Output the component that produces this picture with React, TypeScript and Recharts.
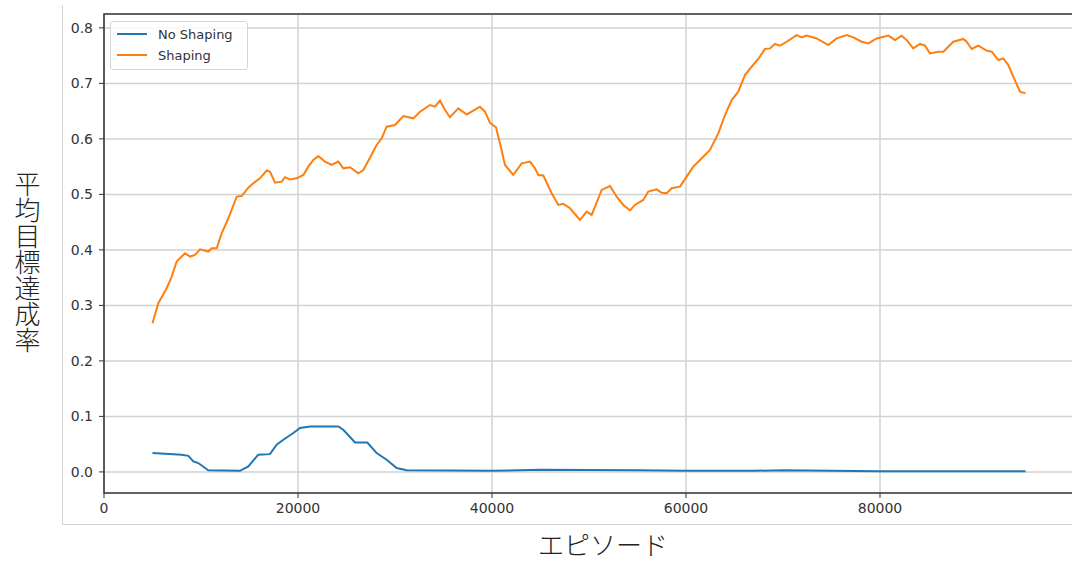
import {
  LineChart,
  Line,
  XAxis,
  YAxis,
  CartesianGrid,
  ReferenceArea
} from "recharts";

// No Shaping (blue)
const noShapingEpisodes = [
  5000, 8000, 8700, 9210, 9720, 10750, 14020, 14880, 15900, 17110, 17800,
  18490, 19520, 20210, 21240, 24160, 24670, 25880, 27150, 28110, 29140,
  30170, 31200, 40000, 45000, 55000, 60000, 67000, 70000, 75000, 80000, 95000
];
const noShapingRates = [
  0.034, 0.031, 0.029, 0.019, 0.016, 0.003, 0.002, 0.01, 0.031, 0.032, 0.049,
  0.058, 0.07, 0.079, 0.082, 0.082, 0.076, 0.053, 0.053, 0.034, 0.022,
  0.007, 0.003, 0.002, 0.004, 0.003, 0.002, 0.002, 0.003, 0.002, 0.001, 0.001
];

// Shaping (orange)
const shapingEpisodes = [
  5000, 5600, 6460, 6980, 7490, 8350, 8870, 9380, 9900, 10750, 11100, 11620,
  12130, 12820, 13680, 14190, 14880, 15390, 16080, 16770, 17110, 17630, 18320,
  18660, 19170, 19860, 20550, 21060, 21580, 22090, 22780, 23470, 24160, 24670,
  25360, 26220, 26730, 27420, 28110, 28630, 29140, 30000, 30860, 31890, 32580,
  33610, 34120, 34640, 35150, 35670, 36520, 37390, 37900, 38760, 39280, 39790,
  40410, 40820, 41340, 42190, 43060, 43920, 44430, 44780, 45290, 46150, 46840,
  47350, 48040, 49070, 49760, 50280, 51310, 52160, 52850, 53540, 54230, 54740,
  55600, 56110, 56980, 57490, 58010, 58520, 59380, 60070, 60750, 61440, 62470,
  63330, 64020, 64710, 65390, 66080, 66770, 67450, 68140, 68660, 69170, 69690,
  70380, 71400, 71920, 72440, 73470, 74670, 75530, 76560, 77250, 78110, 78800,
  79660, 80860, 81550, 82230, 82750, 83430, 84120, 84640, 85150, 86010, 86530,
  87560, 88590, 88930, 89450, 90130, 90990, 91510, 92200, 92710, 93230, 93740,
  94430, 95000
];
const shapingRates = [
  0.268, 0.304, 0.331, 0.352, 0.379, 0.394, 0.388, 0.391, 0.401, 0.397, 0.403,
  0.403, 0.43, 0.457, 0.496, 0.497, 0.512, 0.52, 0.529, 0.543, 0.541, 0.521,
  0.523, 0.531, 0.527, 0.529, 0.535, 0.55, 0.562, 0.569, 0.559, 0.553, 0.559,
  0.547, 0.549, 0.538, 0.544, 0.566, 0.589, 0.601, 0.622, 0.625, 0.641, 0.637,
  0.649, 0.661, 0.658, 0.669, 0.652, 0.639, 0.655, 0.644, 0.649, 0.658, 0.649,
  0.629, 0.621, 0.592, 0.553, 0.535, 0.556, 0.559, 0.547, 0.535, 0.534, 0.502,
  0.481, 0.483, 0.475, 0.454, 0.469, 0.463, 0.508, 0.515, 0.496, 0.481, 0.471,
  0.481, 0.49, 0.505, 0.509, 0.503, 0.502, 0.511, 0.514, 0.532, 0.55, 0.562,
  0.58, 0.61, 0.643, 0.67, 0.685, 0.715, 0.73, 0.744, 0.762, 0.763, 0.771,
  0.768, 0.775, 0.787, 0.783, 0.786, 0.781, 0.769, 0.781, 0.787, 0.783, 0.775,
  0.772, 0.781, 0.786, 0.778, 0.786, 0.778, 0.763, 0.771, 0.768, 0.754, 0.757,
  0.757, 0.775, 0.78, 0.775, 0.762, 0.768, 0.759, 0.757, 0.742, 0.745, 0.733,
  0.712, 0.685, 0.682
];

const xTicks = [0, 20000, 40000, 60000, 80000];
const yTicks = [0, 0.1, 0.2, 0.3, 0.4, 0.5, 0.6, 0.7, 0.8];
const seriesNames = ["No Shaping", "Shaping"];

const noShaping = noShapingEpisodes.map((x, i) => ({ x, y: noShapingRates[i] }));
const shaping = shapingEpisodes.map((x, i) => ({ x, y: shapingRates[i] }));

const BLUE = "#1f77b4";
const ORANGE = "#ff7f0e";
const tickStyle = { fill: "#333", fontSize: 14, fontFamily: "DejaVu Sans" };

// matplotlib-style legend box, top-left inside the axes
const LegendBox = () => (
  <div
    style={{
      position: "absolute",
      left: 110,
      top: 21,
      width: 138,
      height: 49,
      background: "rgba(255,255,255,0.85)",
      border: "1px solid #d6d6d6",
      borderRadius: 3,
      fontFamily: "DejaVu Sans",
      fontSize: 13,
      color: "#333",
      boxSizing: "border-box"
    }}
  >
    {seriesNames.map((name, i) => (
      <div
        key={name}
        style={{
          position: "absolute",
          left: 6,
          top: 3 + i * 21,
          display: "flex",
          alignItems: "center",
          height: 18,
          whiteSpace: "nowrap"
        }}
      >
        <div style={{ width: 30, height: 2, background: i === 0 ? BLUE : ORANGE }} />
        <span style={{ marginLeft: 11 }}>{name}</span>
      </div>
    ))}
  </div>
);

export default function App() {
  return (
    <div
      style={{
        position: "absolute",
        left: 0,
        top: 0,
        width: 1072,
        height: 562,
        overflow: "hidden",
        background: "#fff"
      }}
    >
      <div
        style={{
          position: "absolute",
          left: 62,
          top: 5,
          width: 1020,
          height: 519,
          borderLeft: "1px solid #d4d4d4",
          borderBottom: "1px solid #d4d4d4"
        }}
      />
      <div style={{ position: "absolute", left: 0, top: 0 }}>
        <LineChart
          width={1080}
          height={562}
          margin={{ top: 14, right: 6, left: 44, bottom: 39 }}
        >
          <CartesianGrid stroke="#d2d2d2" strokeWidth={1.5} />
          <XAxis
            type="number"
            dataKey="x"
            domain={[0, 100000]}
            ticks={xTicks}
            allowDataOverflow
            height={30}
            axisLine={false}
            tickSize={5}
            tickMargin={5}
            tickLine={{ stroke: "#333" }}
            tick={tickStyle}
          />
          <YAxis
            type="number"
            dataKey="y"
            domain={[-0.038, 0.825]}
            ticks={yTicks}
            allowDataOverflow
            width={60}
            axisLine={false}
            tickSize={5}
            tickMargin={6}
            tickLine={{ stroke: "#333" }}
            tick={tickStyle}
            tickFormatter={(v: number) => v.toFixed(1)}
          />
          <ReferenceArea
            x1={0}
            x2={100000}
            y1={-0.038}
            y2={0.825}
            fill="none"
            stroke="#3a3a3a"
            strokeWidth={1.6}
            ifOverflow="visible"
          />
          <Line
            data={noShaping}
            dataKey="y"
            name={seriesNames[0]}
            stroke={BLUE}
            strokeWidth={2}
            dot={false}
            type="linear"
            isAnimationActive={false}
          />
          <Line
            data={shaping}
            dataKey="y"
            name={seriesNames[1]}
            stroke={ORANGE}
            strokeWidth={2}
            dot={false}
            type="linear"
            isAnimationActive={false}
          />
        </LineChart>
      </div>
      <LegendBox />
      <div
        style={{
          position: "absolute",
          left: 14,
          top: 171,
          writingMode: "vertical-rl",
          fontFamily: "'Noto Sans CJK JP'",
          fontWeight: 300,
          fontSize: 26,
          lineHeight: "26px",
          color: "#222"
        }}
      >
        平均目標達成率
      </div>
      <div
        style={{
          position: "absolute",
          left: 538,
          top: 528,
          fontFamily: "'Noto Sans CJK JP'",
          fontWeight: 300,
          fontSize: 26,
          lineHeight: "32px",
          color: "#222",
          whiteSpace: "nowrap"
        }}
      >
        エピソード
      </div>
    </div>
  );
}
